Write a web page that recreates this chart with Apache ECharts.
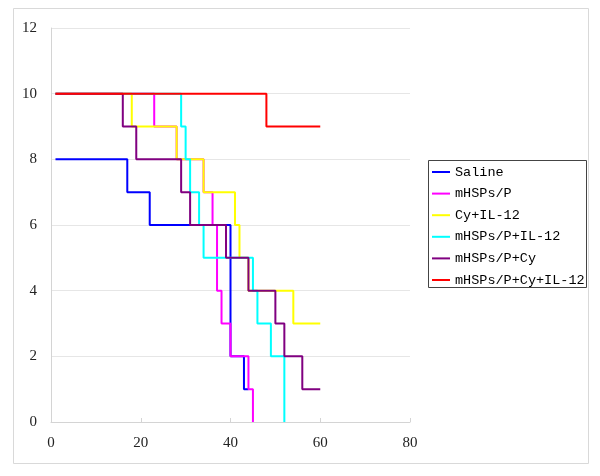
<!DOCTYPE html>
<html><head><meta charset="utf-8">
<script src="https://cdn.jsdelivr.net/npm/echarts@6/dist/echarts.min.js"></script>
<style>html,body{margin:0;padding:0;background:#fff}#c{width:600px;height:476px}</style>
</head><body><div id="c"></div>
<script>
const seriesNames = ['Saline','mHSPs/P','Cy+IL-12','mHSPs/P+IL-12','mHSPs/P+Cy','mHSPs/P+Cy+IL-12'];
const seriesColors = ['#0000FF','#FF00FF','#FFFF00','#00FFFF','#800080','#FF0000'];
const salineTimes = [1,17,22,40,43,44];
const salineValues = [8,7,6,2,1,1];
const hspTimes = [1,23,28,34,36,37,38,40,44,45];
const hspValues = [10,9,8,7,6,4,3,2,1,0];
const cyIlTimes = [1,18,28,34,41,42,44,54,60];
const cyIlValues = [10,9,8,7,6,5,4,3,3];
const hspIlTimes = [1,29,30,31,33,34,45,46,49,52];
const hspIlValues = [10,9,8,7,6,5,4,3,2,0];
const hspCyTimes = [1,16,19,29,31,39,44,50,52,56,60];
const hspCyValues = [10,9,8,7,6,5,4,3,2,1,1];
const allTimes = [1,48,60];
const allValues = [10,9,9];
const xTicks = [0,20,40,60,80];
const yTicks = [0,2,4,6,8,10,12];

const timesList = [salineTimes,hspTimes,cyIlTimes,hspIlTimes,hspCyTimes,allTimes];
const valuesList = [salineValues,hspValues,cyIlValues,hspIlValues,hspCyValues,allValues];

const chart = echarts.init(document.getElementById('c'), null, {renderer:'canvas'});
const series = seriesNames.map((n,i)=>({
  name:n, type:'line', step:'end', showSymbol:false, symbol:'none',
  data: timesList[i].map((t,j)=>[t, valuesList[i][j]]),
  lineStyle:{color:seriesColors[i], width:2}, itemStyle:{color:seriesColors[i]},
  animation:false
}));
chart.setOption({
  animation:false,
  backgroundColor:'#fff',
  grid:{left:51, top:28, right:190, bottom:54, containLabel:false},
  xAxis:{type:'value', min:0, max:80, interval:20,
    axisLine:{show:true, lineStyle:{color:'#d4d4d4', width:1}},
    axisTick:{show:true, inside:true, length:4, lineStyle:{color:'#d4d4d4'}},
    axisLabel:{color:'#222', fontFamily:'Liberation Serif', fontSize:15, margin:14,
      formatter:v=>xTicks.includes(v)?String(v):''},
    splitLine:{show:false}},
  yAxis:{type:'value', min:0, max:12, interval:2,
    axisLine:{show:true, lineStyle:{color:'#d4d4d4', width:1}},
    axisTick:{show:false},
    axisLabel:{color:'#222', fontFamily:'Liberation Serif', fontSize:15, margin:14,
      formatter:v=>yTicks.includes(v)?String(v):''},
    splitLine:{show:true, lineStyle:{color:'#e6e6e6', width:1}}},
  legend:{orient:'vertical', left:432, top:165, padding:0, itemGap:7.6,
    itemWidth:18, itemHeight:2, icon:'rect',
    data:seriesNames.map((n,i)=>({name:n, itemStyle:{color:seriesColors[i]}})),
    textStyle:{fontFamily:'Liberation Mono', fontSize:13.5, color:'#000', lineHeight:14}},
  graphic:[
    {type:'rect', shape:{x:13.5,y:8.5,width:575,height:455}, style:{fill:null, stroke:'#d9d9d9', lineWidth:1}, silent:true, z:-1},
    {type:'rect', shape:{x:428.5,y:160.5,width:158,height:127}, style:{fill:null, stroke:'#444', lineWidth:1}, silent:true}
  ],
  series: series
});
</script></body></html>
